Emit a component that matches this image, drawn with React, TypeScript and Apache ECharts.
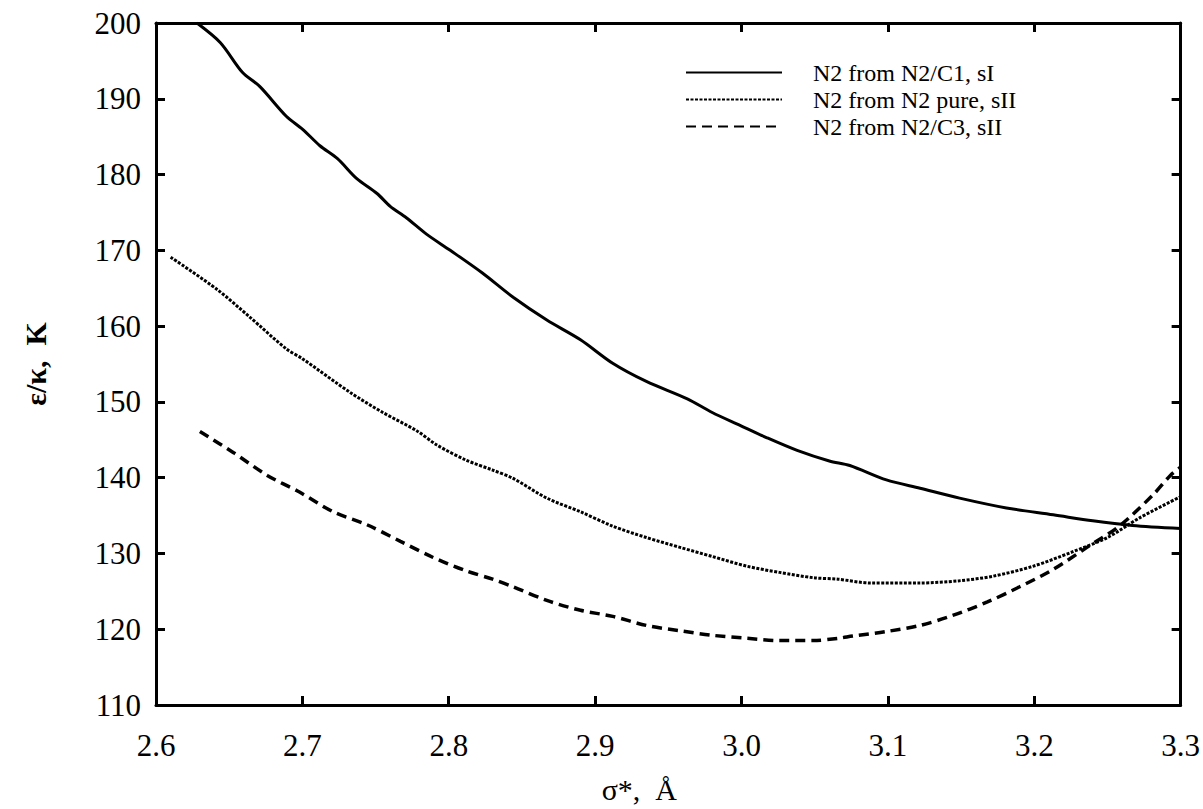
import React, { useEffect, useRef } from "react";
import * as echarts from "echarts";

const xTicks = [2.6, 2.7, 2.8, 2.9, 3.0, 3.1, 3.2, 3.3];
const yTicks = [110, 120, 130, 140, 150, 160, 170, 180, 190, 200];

const seriesNames = ["N2 from N2/C1, sI", "N2 from N2 pure, sII", "N2 from N2/C3, sII"];

const c1X = [2.628, 2.644, 2.659, 2.671, 2.689, 2.7, 2.712, 2.724, 2.737, 2.751, 2.76, 2.771, 2.785, 2.801, 2.823, 2.844, 2.867, 2.89, 2.912, 2.935, 2.963, 2.98, 2.999, 3.017, 3.038, 3.06, 3.074, 3.099, 3.122, 3.149, 3.181, 3.213, 3.24, 3.267, 3.3];
const c1Y = [200, 197.4, 193.5, 191.6, 187.7, 186.0, 183.8, 182.1, 179.5, 177.5, 175.8, 174.3, 172.1, 170.0, 167.0, 163.8, 160.8, 158.2, 155.1, 152.7, 150.4, 148.6, 146.9, 145.3, 143.6, 142.2, 141.6, 139.7, 138.6, 137.3, 136.0, 135.1, 134.3, 133.7, 133.3];

const pureX = [2.61, 2.642, 2.664, 2.689, 2.7, 2.733, 2.755, 2.778, 2.792, 2.812, 2.83, 2.844, 2.867, 2.89, 2.912, 2.935, 2.958, 2.98, 3.004, 3.026, 3.049, 3.066, 3.088, 3.122, 3.149, 3.172, 3.199, 3.226, 3.25, 3.272, 3.3];
const pureY = [169.1, 164.8, 161.2, 157.0, 155.7, 151.2, 148.6, 146.2, 144.3, 142.3, 141.0, 139.9, 137.3, 135.5, 133.6, 132.1, 130.8, 129.6, 128.3, 127.5, 126.8, 126.6, 126.1, 126.1, 126.4, 127.0, 128.3, 130.2, 132.1, 134.7, 137.5];

const c3X = [2.63, 2.653, 2.676, 2.698, 2.721, 2.744, 2.767, 2.789, 2.812, 2.83, 2.844, 2.867, 2.89, 2.912, 2.935, 2.958, 2.98, 3.004, 3.026, 3.049, 3.066, 3.076, 3.099, 3.122, 3.144, 3.168, 3.19, 3.213, 3.236, 3.258, 3.281, 3.293, 3.3];
const c3Y = [146.1, 143.3, 140.3, 138.1, 135.5, 133.8, 131.6, 129.5, 127.7, 126.6, 125.6, 123.8, 122.5, 121.7, 120.5, 119.8, 119.2, 118.8, 118.5, 118.5, 118.8, 119.1, 119.7, 120.5, 121.8, 123.6, 125.6, 127.9, 130.8, 133.6, 137.7, 140.3, 141.4];

const zip = (xs: number[], ys: number[]) => xs.map((x, i) => [x, ys[i]]);

const FONT = "Liberation Serif";

export default function App() {
  const ref = useRef<HTMLDivElement>(null);
  useEffect(() => {
    if (!ref.current) return;
    const chart = echarts.init(ref.current, null, { renderer: "svg" });
    const axisLine = { show: true, lineStyle: { color: "#000", width: 3 } };
    const tick = { show: true, inside: true, length: 9, lineStyle: { color: "#000", width: 3 } };
    chart.setOption({
      animation: false,
      backgroundColor: "#fff",
      grid: { left: 156, right: 22, top: 23, bottom: 97, containLabel: false },
      legend: {
        left: 680,
        top: 54,
        orient: "vertical",
        itemWidth: 96,
        itemHeight: 14,
        itemGap: 0,
        data: seriesNames,
        itemStyle: { opacity: 0 },
        textStyle: { fontFamily: FONT, fontSize: 24, color: "#000", lineHeight: 27, padding: [0, 0, 0, 26] },
      },
      xAxis: [
        {
          type: "value",
          min: 2.6,
          max: 3.3,
          interval: 0.1,
          position: "bottom",
          axisLine,
          axisTick: tick,
          splitLine: { show: false },
          axisLabel: {
            fontFamily: FONT,
            fontSize: 31,
            color: "#000",
            margin: 25,
            formatter: (v: number) => {
              const m = xTicks.find((t) => Math.abs(t - v) < 1e-6);
              return m !== undefined ? m.toFixed(1) : "";
            },
          },
          name: "σ*,  Å",
          nameLocation: "middle",
          nameGap: 69,
          nameTextStyle: { fontFamily: FONT, fontSize: 30, color: "#000", padding: [0, 58, 0, 0] },
        },
        {
          type: "value",
          min: 2.6,
          max: 3.3,
          interval: 0.1,
          position: "top",
          axisLine,
          axisTick: tick,
          axisLabel: { show: false },
          splitLine: { show: false },
        },
      ],
      yAxis: [
        {
          type: "value",
          min: 110,
          max: 200,
          interval: 10,
          position: "left",
          axisLine,
          axisTick: tick,
          splitLine: { show: false },
          axisLabel: {
            fontFamily: FONT,
            fontSize: 31,
            color: "#000",
            margin: 15,
            formatter: (v: number) => (yTicks.includes(v) ? String(v) : ""),
          },
          name: "ε/κ,  K",
          nameLocation: "middle",
          nameGap: 106,
          nameTextStyle: { fontFamily: FONT, fontSize: 30, fontWeight: "bold", color: "#000" },
        },
        {
          type: "value",
          min: 110,
          max: 200,
          interval: 10,
          position: "right",
          axisLine,
          axisTick: tick,
          axisLabel: { show: false },
          splitLine: { show: false },
        },
      ],
      series: [
        {
          name: seriesNames[0],
          type: "line",
          data: zip(c1X, c1Y),
          showSymbol: false,
          symbol: "none",
          smooth: 0.3,
          clip: true,
          lineStyle: { color: "#000", width: 3, type: "solid" },
        },
        {
          name: seriesNames[1],
          type: "line",
          data: zip(pureX, pureY),
          showSymbol: false,
          symbol: "none",
          smooth: 0.3,
          clip: true,
          lineStyle: { color: "#000", width: 3, type: [3, 1.5] },
        },
        {
          name: seriesNames[2],
          type: "line",
          data: zip(c3X, c3Y),
          showSymbol: false,
          symbol: "none",
          smooth: 0.3,
          clip: true,
          lineStyle: { color: "#000", width: 3.5, type: [10, 6] },
        },
      ],
    });
    return () => chart.dispose();
  }, []);
  return (
    <div
      ref={ref}
      style={{ position: "fixed", left: 0, top: 0, width: 1203, height: 809, background: "#fff" }}
    />
  );
}
